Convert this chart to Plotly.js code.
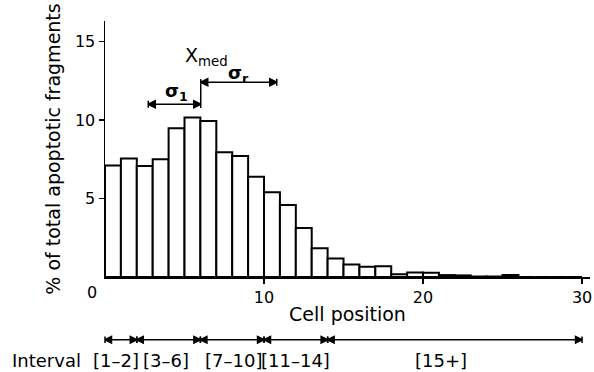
<!DOCTYPE html>
<html>
<head>
<meta charset="utf-8">
<script src="https://cdn.plot.ly/plotly-3.0.1.min.js"></script>
<style>html,body{margin:0;padding:0;background:#fff}#chart{width:594px;height:372px}</style>
</head>
<body>
<div id="chart"></div>
<script>
// Cell positions (bar i covers [i-1, i])
const cellPositions = [1,2,3,4,5,6,7,8,9,10,11,12,13,14,15,16,17,18,19,20,21,22,23,24,25,26,27,28,29,30];
// % of total apoptotic fragments
const percentFragments = [7.1,7.55,7.07,7.5,9.47,10.15,9.94,7.94,7.71,6.39,5.39,4.59,3.12,1.83,1.18,0.8,0.65,0.68,0.17,0.28,0.27,0.12,0.1,0.03,0.03,0.13,0,0,0,0];
const xTickVals = [10,20,30];
const yTickVals = [5,10,15];
// Median and spread markers (cell position units)
const xMed = 6.02;
const sigmaLeftStart = 2.72;
const sigmaRightEnd = 10.8;
const sigmaLeftLevel = 11.0;
const sigmaRightLevel = 12.4;
const xMedLineBottom = 10.76;
const xMedLineTop = 12.6;
// Intervals
const intervalEdges = [0,2,6,10,14,30];
const intervalLabels = ['[1\u20132]','[3\u20136]','[7\u201310]','[11\u201314]','[15+]'];
const intervalLabelX = [0.7,3.85,8.1,12.0,21.1];

const font = 'DejaVu Sans, Arial, sans-serif';
const annotations = [];

// Interval arrows trace (on lower strip axis y2)
const ivX = [], ivY = [], ivSym = [];
for (let i = 0; i < intervalEdges.length - 1; i++) {
  ivX.push(intervalEdges[i], intervalEdges[i + 1], null);
  ivY.push(0.46, 0.46, null);
  ivSym.push('arrow-bar-left', 'arrow-bar-right', 'circle');
}
const intervalTrace = {
  type: 'scatter', mode: 'lines+markers', x: ivX, y: ivY, xaxis: 'x', yaxis: 'y2',
  line: {color: '#000', width: 1.5}, connectgaps: false,
  marker: {symbol: ivSym, size: 6.5, color: '#000', line: {color: '#000', width: 1.5}},
  hoverinfo: 'skip', cliponaxis: false
};

// Sigma arrows trace (main axes)
const sigmaTrace = {
  type: 'scatter', mode: 'lines+markers',
  x: [sigmaLeftStart, xMed, null, xMed, sigmaRightEnd],
  y: [sigmaLeftLevel, sigmaLeftLevel, null, sigmaRightLevel, sigmaRightLevel],
  line: {color: '#000', width: 1.5}, connectgaps: false,
  marker: {symbol: ['arrow-bar-left', 'arrow-right', 'circle', 'arrow-left', 'arrow-bar-right'],
    size: 7, color: '#000', line: {color: '#000', width: 1.5}},
  hoverinfo: 'skip', cliponaxis: false
};
const medTrace = {
  type: 'scatter', mode: 'lines', x: [xMed, xMed], y: [xMedLineBottom, xMedLineTop],
  line: {color: '#000', width: 1.5}, hoverinfo: 'skip'
};

annotations.push({x: 4.89, y: 14.05, xref: 'x', yref: 'y', xanchor: 'left', yanchor: 'middle',
  text: 'X<sub>med</sub>', showarrow: false, font: {family: font, size: 19, color: '#000'}});
annotations.push({x: (sigmaLeftStart + xMed) / 2 + 0.1, y: 11.75, xref: 'x', yref: 'y', xanchor: 'center', yanchor: 'middle',
  text: '<b>\u03c3<sub>1</sub></b>', showarrow: false, font: {family: font, size: 18, color: '#000'}});
annotations.push({x: 8.4, y: 12.9, xref: 'x', yref: 'y', xanchor: 'center', yanchor: 'middle',
  text: '<b>\u03c3<sub>r</sub></b>', showarrow: false, font: {family: font, size: 18, color: '#000'}});

intervalLabels.forEach((t, i) => annotations.push({
  x: intervalLabelX[i], y: 0.17, xref: 'x', yref: 'y2', xanchor: 'center', yanchor: 'middle',
  text: t, showarrow: false, font: {family: font, size: 18, color: '#000'}
}));
annotations.push({x: 0, xshift: -95, y: 0.17, xref: 'x', yref: 'y2', xanchor: 'left', yanchor: 'middle',
  text: 'Interval', showarrow: false, font: {family: font, size: 18, color: '#000'}});
// corner origin label
annotations.push({x: 0, xshift: -13, y: 0, yshift: -16, xref: 'x', yref: 'y', xanchor: 'center', yanchor: 'middle',
  text: '0', showarrow: false, font: {family: font, size: 16, color: '#000'}});

const barTrace = {
  type: 'bar', x: cellPositions, y: percentFragments, width: 1, offset: -1,
  marker: {color: '#fff', line: {color: '#000', width: 2}},
  hoverinfo: 'x+y'
};

const layout = {
  width: 594, height: 372,
  margin: {l: 105, r: 4, t: 21, b: 0},
  paper_bgcolor: '#fff', plot_bgcolor: '#fff',
  showlegend: false,
  font: {family: font, color: '#000', size: 16},
  xaxis: {
    anchor: 'y', range: [0, 30.5], tickvals: xTickVals, ticks: 'outside', ticklen: 5, tickwidth: 1.5,
    tickcolor: '#000', showline: true, linewidth: 2, linecolor: '#000', showgrid: false, zeroline: false,
    tickfont: {family: font, size: 16, color: '#000'},
    title: {text: 'Cell position', font: {family: font, size: 19, color: '#000'}, standoff: 2}
  },
  yaxis: {
    domain: [0.2707, 1], range: [0, 16.3], tickvals: yTickVals, ticks: 'outside', ticklen: 5, tickwidth: 1.5,
    tickcolor: '#000', showline: true, linewidth: 1.5, linecolor: '#000', showgrid: false, zeroline: false,
    tickfont: {family: font, size: 16, color: '#000'},
    title: {text: '% of total apoptotic fragments', font: {family: font, size: 19, color: '#000'}, standoff: 9}
  },
  yaxis2: {domain: [0, 0.2], range: [0, 1], anchor: 'x', visible: false, fixedrange: true},
  annotations: annotations
};

Plotly.newPlot('chart', [barTrace, medTrace, sigmaTrace, intervalTrace], layout, {displayModeBar: false, staticPlot: true});
</script>
</body>
</html>
